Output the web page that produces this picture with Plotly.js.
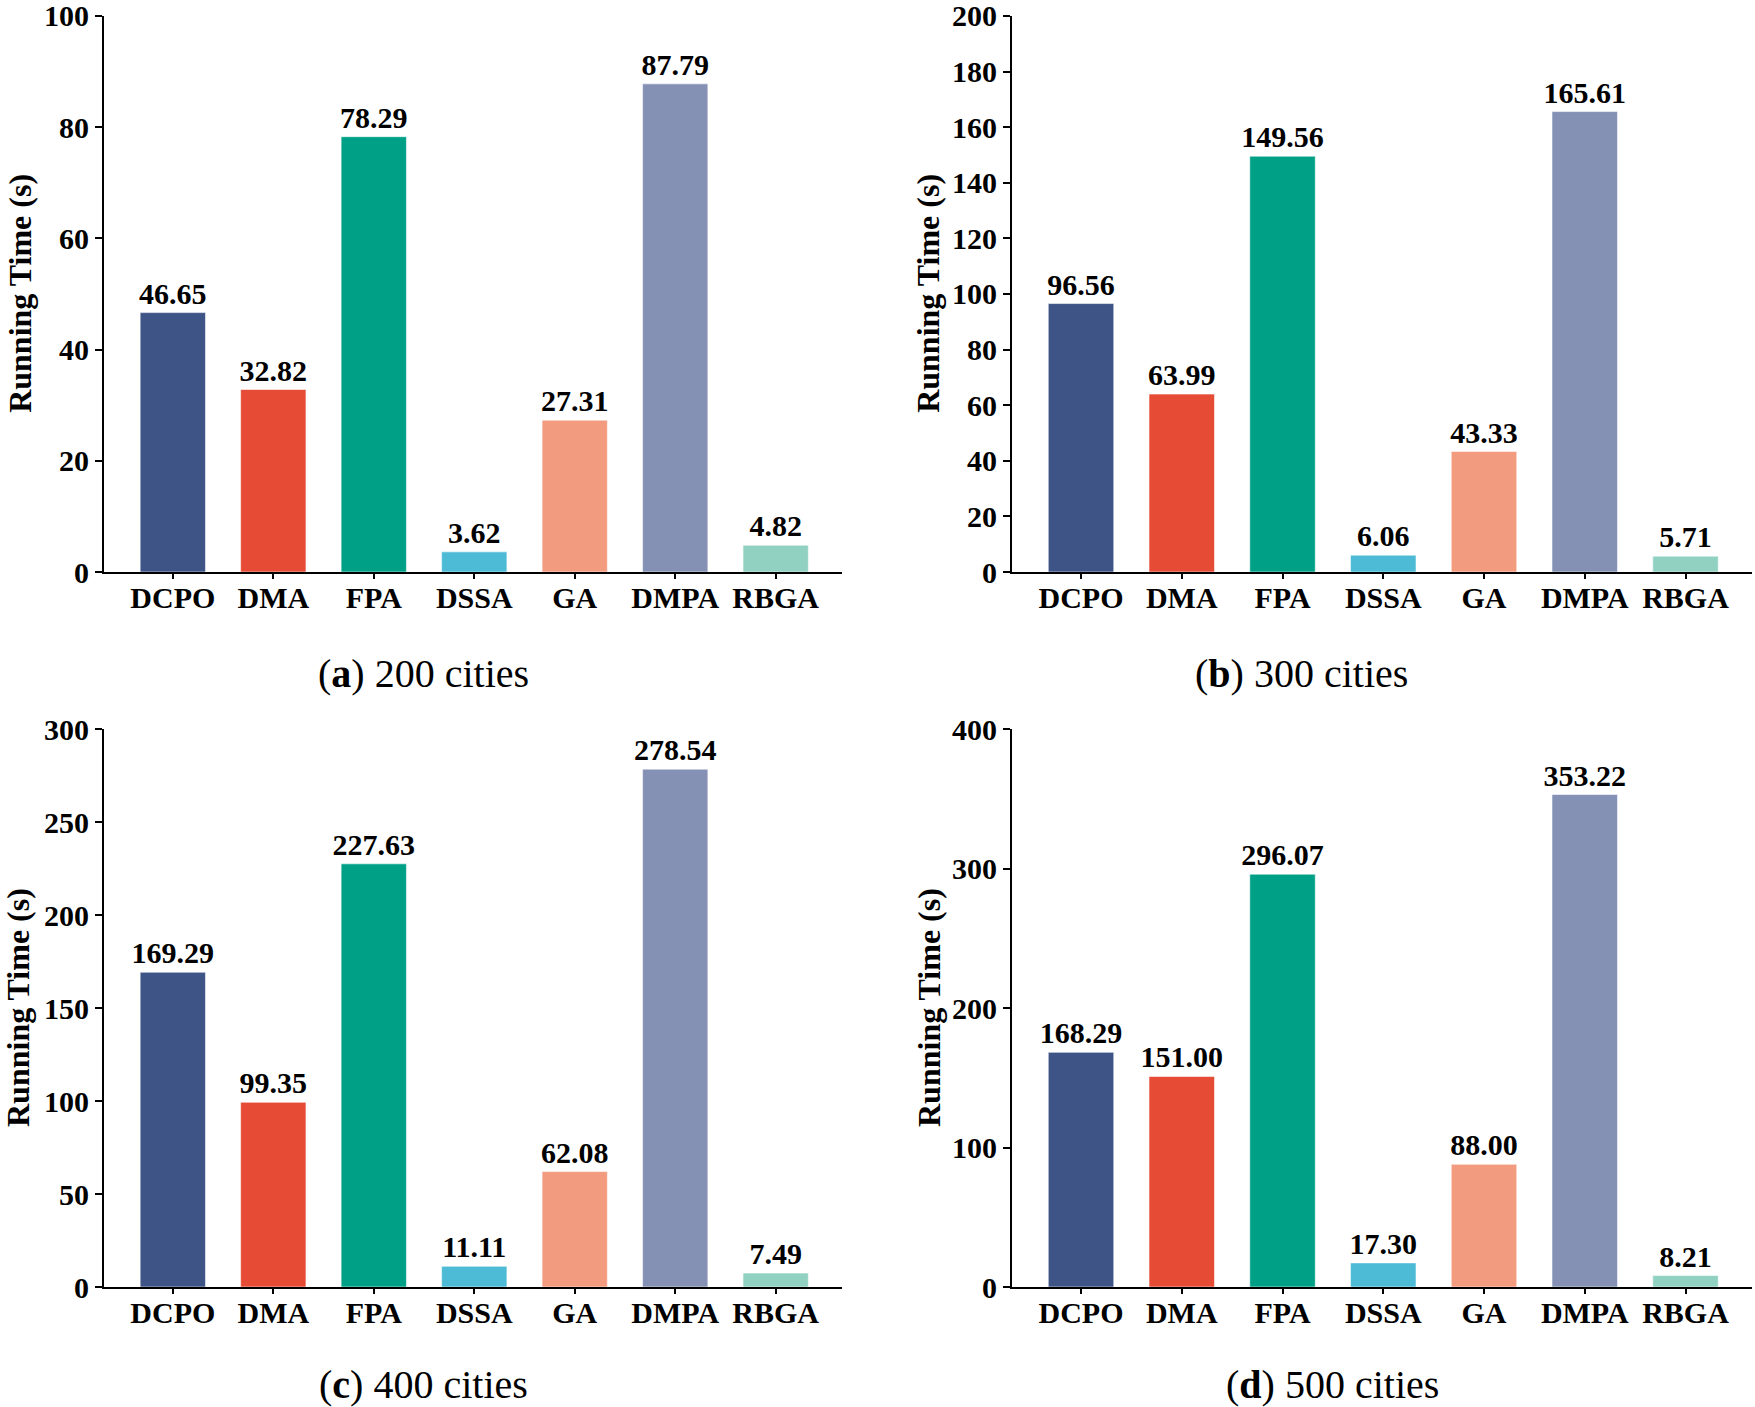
<!DOCTYPE html>
<html>
<head>
<meta charset="utf-8">
<script src="https://cdn.plot.ly/plotly-3.0.1.min.js"></script>
<style>html,body{margin:0;padding:0;background:#fff;}#chart{width:1755px;height:1407px;}</style>
</head>
<body>
<div id="chart"></div>
<script>
const categories = ['DCPO', 'DMA', 'FPA', 'DSSA', 'GA', 'DMPA', 'RBGA'];
const barColors = ['#3e5487', '#e64b35', '#00a087', '#4dbbd5', '#f39b7f', '#8491b4', '#91d1c2'];

const cities200 = [46.65, 32.82, 78.29, 3.62, 27.31, 87.79, 4.82];
const cities300 = [96.56, 63.99, 149.56, 6.06, 43.33, 165.61, 5.71];
const cities400 = [169.29, 99.35, 227.63, 11.11, 62.08, 278.54, 7.49];
const cities500 = [168.29, 151.00, 296.07, 17.30, 88.00, 353.22, 8.21];

const panelCaptions = ['(<b>a</b>) 200 cities', '(<b>b</b>) 300 cities', '(<b>c</b>) 400 cities', '(<b>d</b>) 500 cities'];
const yTitle = 'Running Time (s)';
const yMax = [100, 200, 300, 400];
const yStep = [20, 20, 50, 100];

const FONT = 'Liberation Serif, Times New Roman, serif';
const W = 1755, H = 1407;

const series = [cities200, cities300, cities400, cities500];
// pixel layout of each panel [left, right, top, bottom]
const boxes = [
  [104, 842, 15.7, 572],
  [1012, 1752, 15.7, 572],
  [104, 842, 729, 1287],
  [1012, 1752, 729, 1287]
];
const captionPos = [[423, 673], [1301, 673], [423, 1384], [1332, 1384]];
const titlePosX = [20, 928, 18, 929];

const data = [];
const layout = {
  width: W, height: H,
  margin: {l: 0, r: 0, t: 0, b: 0},
  paper_bgcolor: '#fff', plot_bgcolor: '#fff',
  showlegend: false,
  bargap: 0.35,
  font: {family: FONT, color: '#000'},
  annotations: []
};

series.forEach((vals, i) => {
  const n = i + 1;
  const xa = 'x' + (n === 1 ? '' : n);
  const ya = 'y' + (n === 1 ? '' : n);
  data.push({
    type: 'bar',
    x: categories,
    y: vals,
    xaxis: xa, yaxis: ya,
    width: 0.65,
    marker: {color: barColors, line: {color: 'rgba(255,255,255,0.55)', width: 1}},
    text: vals.map(v => v.toFixed(2)),
    textposition: 'outside',
    constraintext: 'none',
    cliponaxis: false,
    textfont: {family: FONT, size: 30, weight: 'bold', color: '#000'},
    hoverinfo: 'x+y'
  });
  const b = boxes[i];
  const xKey = 'xaxis' + (n === 1 ? '' : n);
  const yKey = 'yaxis' + (n === 1 ? '' : n);
  const ticks = [];
  for (let t = 0; t <= yMax[i]; t += yStep[i]) ticks.push(t);
  layout[xKey] = {
    domain: [b[0] / W, b[1] / W],
    anchor: ya,
    range: [-0.685, 6.66],
    showline: true, linecolor: '#000', linewidth: 2,
    ticks: 'outside', ticklen: 5, tickwidth: 2, tickcolor: '#000',
    ticklabelstandoff: -7,
    ticklabeloverflow: 'allow',
    showgrid: false, zeroline: false,
    tickfont: {family: FONT, size: 30, weight: 'bold', color: '#000'},
    fixedrange: true
  };
  layout[yKey] = {
    domain: [1 - b[3] / H, 1 - b[2] / H],
    anchor: xa,
    range: [0, yMax[i] * 1.0005],
    tickmode: 'array', tickvals: ticks, ticktext: ticks.map(String),
    showline: true, linecolor: '#000', linewidth: 2,
    ticks: 'outside', ticklen: 7, tickwidth: 2, tickcolor: '#000',
    ticklabeloverflow: 'allow',
    showgrid: false, zeroline: false,
    tickfont: {family: FONT, size: 30, weight: 'bold', color: '#000'},
    fixedrange: true
  };
  layout.annotations.push({
    xref: 'paper', yref: 'paper',
    x: titlePosX[i] / W, y: 1 - ((b[2] + b[3]) / 2) / H,
    text: '<b>' + yTitle + '</b>', textangle: -90, showarrow: false,
    xanchor: 'center', yanchor: 'middle',
    font: {family: FONT, size: 32, color: '#000'}
  });
  layout.annotations.push({
    xref: 'paper', yref: 'paper',
    x: captionPos[i][0] / W, y: 1 - captionPos[i][1] / H,
    text: panelCaptions[i], showarrow: false,
    xanchor: 'center', yanchor: 'middle',
    font: {family: FONT, size: 40, color: '#000'}
  });
});

Plotly.newPlot('chart', data, layout, {displayModeBar: false, staticPlot: true});
</script>
</body>
</html>
